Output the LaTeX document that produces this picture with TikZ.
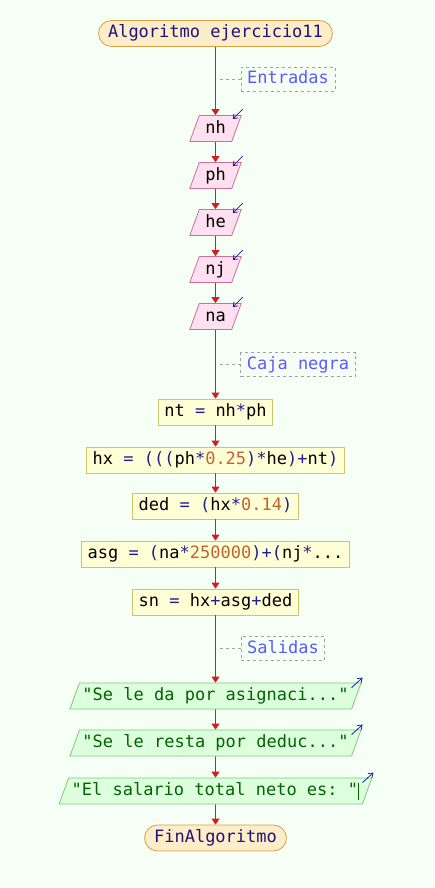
\documentclass[tikz,border=0pt]{standalone}
\usepackage{fontspec}
\setmonofont{DejaVu Sans Mono}
\usetikzlibrary{shapes.geometric,arrows.meta}

\definecolor{bgc}{RGB}{246,255,246}
\definecolor{termfill}{RGB}{255,236,200}
\definecolor{termline}{RGB}{214,160,70}
\definecolor{termtext}{RGB}{30,20,120}
\definecolor{infill}{RGB}{255,224,240}
\definecolor{inline}{RGB}{208,110,150}
\definecolor{procfill}{RGB}{255,255,214}
\definecolor{procline}{RGB}{200,200,100}
\definecolor{outfill}{RGB}{222,255,222}
\definecolor{outline}{RGB}{120,200,120}
\definecolor{outtext}{RGB}{0,100,0}
\definecolor{notegray}{RGB}{160,160,160}
\definecolor{notetext}{RGB}{90,90,255}
\definecolor{opblue}{RGB}{30,30,150}
\definecolor{numbrown}{RGB}{190,100,50}
\definecolor{flowred}{RGB}{210,30,30}
\definecolor{markblue}{RGB}{30,30,160}

\newcommand{\opk}[1]{\textcolor{opblue}{#1}}
\newcommand{\numk}[1]{\textcolor{numbrown}{#1}}

\tikzset{
  base/.style={font=\ttfamily\fontsize{17}{20}\selectfont, text height=12.5pt,
    text depth=3.5pt, inner ysep=5pt, line width=0.8pt},
  term/.style={base, rectangle, rounded corners=13pt, draw=termline, fill=termfill,
    text=termtext, inner xsep=9.5pt},
  inbox/.style={base, trapezium, trapezium left angle=70, trapezium right angle=110,
    draw=inline, fill=infill, inner xsep=6pt},
  procbox/.style={base, rectangle, draw=procline, fill=procfill, inner xsep=6pt},
  outbox/.style={base, trapezium, trapezium left angle=70, trapezium right angle=110,
    draw=outline, fill=outfill, text=outtext, inner xsep=3pt},
  note/.style={base, rectangle, draw=notegray, dashed, text=notetext,
    inner xsep=6pt, inner ysep=4pt},
  flow/.style={draw=flowred, line width=0.8pt, -{Triangle[width=8pt,length=6pt]}},
  noteline/.style={draw=notegray, dashed, line width=0.8pt},
  iomark/.style={draw=markblue, line width=0.8pt, -{Straight Barb[length=4pt,width=6pt]}}
}

\begin{document}
\begin{tikzpicture}[x=1pt,y=-1pt]
	
	\def\mx{215.5}     
	
	\fill[bgc] (0,0) rectangle (434,888);
	\useasboundingbox (0,0) rectangle (434,888);
	
	\node[term] (inicio) at (\mx,33.5) {Algoritmo ejercicio11};
	
	% entradas
	\node[note] (entradas) at (288,79) {Entradas};
	\node[inbox] (nh) at (\mx,128.5) {nh};
	\node[inbox] (ph) at (\mx,175.5) {ph};
	\node[inbox] (he) at (\mx,222.5) {he};
	\node[inbox] (nj) at (\mx,269.5) {nj};
	\node[inbox] (na) at (\mx,316.5) {na};
	
	% caja negra
	\node[note] (cajanegra) at (298,364.5) {Caja negra};
	\node[procbox] (nt) at (\mx,412) {nt \opk{=} nh\opk{*}ph};
	\node[procbox] (hx) at (\mx,460) {hx \opk{= (((}ph\opk{*}\numk{0.25}\opk{)*}he\opk{)+}nt\opk{)}};
	\node[procbox] (ded) at (\mx,506) {ded \opk{= (}hx\opk{*}\numk{0.14}\opk{)}};
	\node[procbox] (asg) at (\mx,554) {asg \opk{= (}na\opk{*}\numk{250000}\opk{)+(}nj\opk{*}...};
	\node[procbox] (sn) at (\mx,602) {sn \opk{=} hx\opk{+}asg\opk{+}ded};
	
	% salidas
	\node[note] (salidas) at (283,648.5) {Salidas};
	\node[outbox] (sal1) at (\mx,696) {"Se le da por asignaci..."};
	\node[outbox] (sal2) at (\mx,743) {"Se le resta por deduc..."};
	\node[outbox] (sal3) at (\mx,791) {"El salario total neto es: "\rule[-4pt]{1.2pt}{17pt}};
	
	\node[term] (fin) at (\mx,838) {FinAlgoritmo};
	
	\draw[flow] (inicio) -- (nh);
	\draw[flow] (nh) -- (ph);
	\draw[flow] (ph) -- (he);
	\draw[flow] (he) -- (nj);
	\draw[flow] (nj) -- (na);
	\draw[flow] (na) -- (nt);
	\draw[flow] (nt) -- (hx);
	\draw[flow] (hx) -- (ded);
	\draw[flow] (ded) -- (asg);
	\draw[flow] (asg) -- (sn);
	\draw[flow] (sn) -- (sal1);
	\draw[flow] (sal1) -- (sal2);
	\draw[flow] (sal2) -- (sal3);
	\draw[flow] (sal3) -- (fin);
	
	\coordinate (n1) at (220,79);
	\coordinate (n2) at (220,364.5);
	\coordinate (n3) at (220,648.5);
	\draw[noteline] (n1) -- (entradas);
	\draw[noteline] (n2) -- (cajanegra);
	\draw[noteline] (n3) -- (salidas);
	
	\foreach \v in {nh,ph,he,nj,na}
		\draw[iomark] ([shift={(1,-6)}]\v.top right corner) -- ++(-10,10);
	\foreach \v in {sal1,sal2,sal3}
		\draw[iomark] ([shift={(-10,5)}]\v.top right corner) -- ++(11,-10);
\end{tikzpicture}
\end{document}
